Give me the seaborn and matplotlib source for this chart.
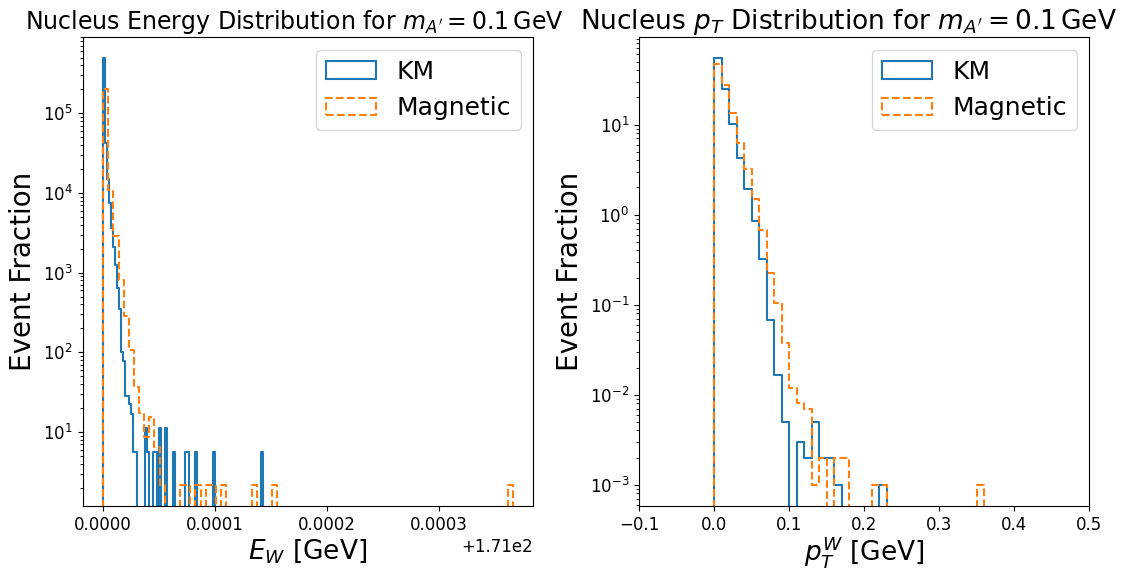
import numpy as np
import pandas as pd
import matplotlib
matplotlib.use("Agg")
import matplotlib.pyplot as plt
from matplotlib.patches import Patch
import seaborn as sns

# ---------------- data ----------------
# Left panel: nucleus energy E_W (GeV), shown relative to offset 171 GeV
e_offset = 171.0
e_km_range = 1.4286e-4      # KM histogram range above offset (80 bins)
e_mag_range = 3.66e-4       # Magnetic histogram range above offset (80 bins)
n_bins_e = 80
e_tick_values = [0.0, 1e-4, 2e-4, 3e-4]

e_km_density = [
    490000, 42100, 14860, 7430, 3612, 2125, 1253, 650, 348, 101,
    78, 28, 28, 22.4, 16.8, 5.6, 5.6, 0, 0, 0,
    0, 11.2, 5.6, 0, 0, 5.6, 5.6, 0, 11.2, 0,
    0, 11.2, 0, 0, 0, 5.6, 0, 0, 0, 0,
    0, 5.6, 5.6, 0, 0, 0, 5.6, 0, 0, 0,
    0, 0, 0, 0, 0, 5.6, 0, 0, 0, 0,
    0, 0, 0, 0, 0, 0, 0, 0, 0, 0,
    0, 0, 0, 0, 0, 0, 0, 0, 0, 5.6,
]
e_mag_density = [
    202000, 10900, 2890, 813, 287, 108, 37, 17.5, 8.75, 15.3,
    6.56, 2.19, 0, 0, 0, 2.19, 2.19, 0, 2.19, 0,
    2.19, 2.19, 0, 2.19, 0, 0, 0, 0, 0, 2.19,
    0, 0, 0, 2.19, 0, 0, 0, 0, 0, 0,
    0, 0, 0, 0, 0, 0, 0, 0, 0, 0,
    0, 0, 0, 0, 0, 0, 0, 0, 0, 0,
    0, 0, 0, 0, 0, 0, 0, 0, 0, 0,
    0, 0, 0, 0, 0, 0, 0, 0, 0, 2.19,
]

# Right panel: nucleus pT (GeV), bins of 0.01 GeV starting at 0
pt_bin_width = 0.01
pt_km_density = [
    54.3, 25.0, 10.1, 4.29, 1.94, 0.851, 0.321, 0.0671, 0.0167, 0.005,
    0, 0.003, 0.002, 0.005, 0.002, 0.002, 0.001, 0, 0, 0,
    0, 0, 0.001, 0, 0, 0, 0, 0, 0, 0,
    0, 0, 0, 0, 0, 0,
]
pt_mag_density = [
    46.6, 27.2, 13.3, 6.25, 3.21, 1.50, 0.676, 0.223, 0.103, 0.037,
    0.012, 0.008, 0.007, 0.001, 0.002, 0, 0.002, 0.002, 0, 0,
    0, 0.001, 0.001, 0, 0, 0, 0, 0, 0, 0,
    0, 0, 0, 0, 0, 0.001,
]

labels = ["KM", "Magnetic"]
colors = ["#1f77b4", "#ff7f0e"]
styles = ["-", "--"]

# ---------------- plotting ----------------
def draw_step(ax, edges, values, color, ls):
    edges = np.asarray(edges, dtype=float)
    w = edges[1] - edges[0]
    full_edges = np.concatenate([[edges[0] - w], edges, [edges[-1] + w]])
    full_vals = np.concatenate([[0.0], np.asarray(values, float), [0.0]])
    centers = 0.5 * (full_edges[:-1] + full_edges[1:])
    df = pd.DataFrame({"x": centers, "w": full_vals})
    sns.histplot(data=df, x="x", weights="w", bins=full_edges.tolist(),
                 element="step", fill=False, color=color,
                 linestyle=ls, linewidth=1.5, ax=ax)


fig = plt.figure(figsize=(11.33, 5.73), dpi=100)
axL = fig.add_axes([0.0730, 0.1169, 0.3975, 0.8185])
axR = fig.add_axes([0.5640, 0.1169, 0.3975, 0.8185])

e_km_edges = e_offset + np.linspace(0, e_km_range, n_bins_e + 1)
e_mag_edges = e_offset + np.linspace(0, e_mag_range, n_bins_e + 1)
draw_step(axL, e_km_edges, e_km_density, colors[0], styles[0])
draw_step(axL, e_mag_edges, e_mag_density, colors[1], styles[1])

pt_km_edges = np.arange(len(pt_km_density) + 1) * pt_bin_width
pt_mag_edges = np.arange(len(pt_mag_density) + 1) * pt_bin_width
draw_step(axR, pt_km_edges, pt_km_density, colors[0], styles[0])
draw_step(axR, pt_mag_edges, pt_mag_density, colors[1], styles[1])

for ax in (axL, axR):
    ax.set_yscale("log")
    ax.set_ylabel("Event Fraction", fontsize=20)
    ax.tick_params(axis="both", labelsize=12)
    handles = [Patch(facecolor="none", edgecolor=c, linestyle=s, linewidth=1.5)
               for c, s in zip(colors, styles)]
    ax.legend(handles, labels, loc="upper right", fontsize=18)

axL.set_xlim(e_offset - 1.83e-5, e_offset + 3.84e-4)
axL.set_xticks([e_offset + v for v in e_tick_values])
axL.set_ylim(10 ** 0.073, 10 ** 5.957)
axL.set_xlabel("$E_W$ [GeV]", fontsize=19, labelpad=2)
axL.set_title("Nucleus Energy Distribution for $m_{A'} = 0.1\\,\\mathrm{GeV}$",
              fontsize=17, x=0.47)
axL.xaxis.get_offset_text().set_fontsize(12)

axR.set_xlim(-0.1, 0.5)
axR.set_ylim(10 ** -3.237, 10 ** 1.972)
axR.set_xlabel("$p_T^W$ [GeV]", fontsize=19, labelpad=0)
axR.set_title("Nucleus $p_T$ Distribution for $m_{A'} = 0.1\\,\\mathrm{GeV}$",
              fontsize=19, x=0.465)

fig.savefig("out.png", dpi=100)
